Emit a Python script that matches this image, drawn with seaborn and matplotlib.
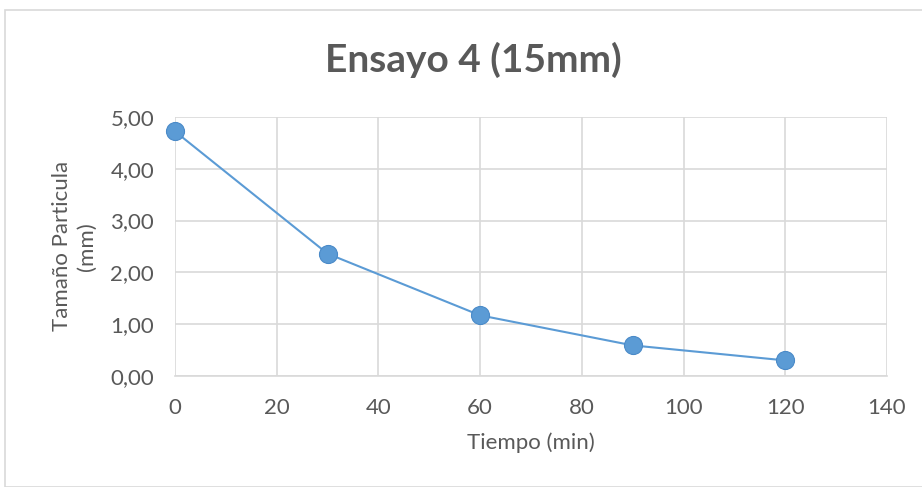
import matplotlib
matplotlib.use('Agg')
import matplotlib.pyplot as plt
import matplotlib.patches as mpatches
from matplotlib.ticker import FuncFormatter, MultipleLocator
import pandas as pd
import seaborn as sns

# Data
tiempo = [0, 30, 60, 90, 120]
tamano = [4.72, 2.36, 1.17, 0.59, 0.30]

df = pd.DataFrame({'Tiempo (min)': tiempo, 'Tamaño': tamano})

sns.set_style('white')
plt.rcParams['font.family'] = ['Lato', 'DejaVu Sans']

text_color = '#595959'
line_color = '#5B9BD5'
grid_color = '#D9D9D9'

fig = plt.figure(figsize=(9.22, 4.87), dpi=100)
ax = fig.add_axes([0.1898, 0.228, 0.7722, 0.532])

# Chart border
fig.patches.append(mpatches.Rectangle((5 / 922, 0), 1, 1 - 10 / 487, transform=fig.transFigure,
                                      fill=False, edgecolor='#D9D9D9', linewidth=1.2))

sns.lineplot(data=df, x='Tiempo (min)', y='Tamaño', ax=ax, color=line_color,
             linewidth=1.5, marker='o', markersize=13, markeredgecolor='#4A8AC8',
             markeredgewidth=0.8, zorder=3, clip_on=False)

ax.set_xlim(0, 140)
ax.set_ylim(0, 5)
ax.xaxis.set_major_locator(MultipleLocator(20))
ax.yaxis.set_major_locator(MultipleLocator(1))
ax.yaxis.set_major_formatter(FuncFormatter(lambda v, p: f'{v:.2f}'.replace('.', ',')))

ax.grid(True, color=grid_color, linewidth=1.2)
ax.set_axisbelow(True)
for s in ['top', 'right', 'left']:
    ax.spines[s].set_visible(False)
ax.spines['bottom'].set_color(grid_color)
ax.spines['bottom'].set_linewidth(1.2)

ax.tick_params(axis='both', length=0, labelsize=16, colors=text_color)
ax.tick_params(axis='x', pad=16)
ax.tick_params(axis='y', pad=15)

ax.set_xlabel('Tiempo (min)', fontsize=16, color=text_color, labelpad=10)
ax.set_ylabel('Tamaño Particula\n(mm)', fontsize=16, color=text_color, labelpad=10,
              linespacing=1.3)
fig.text(0.513, 0.877, 'Ensayo 4 (15mm)', ha='center', va='center',
         fontsize=28, fontweight='bold', color=text_color)

fig.savefig('out.png', dpi=100)
